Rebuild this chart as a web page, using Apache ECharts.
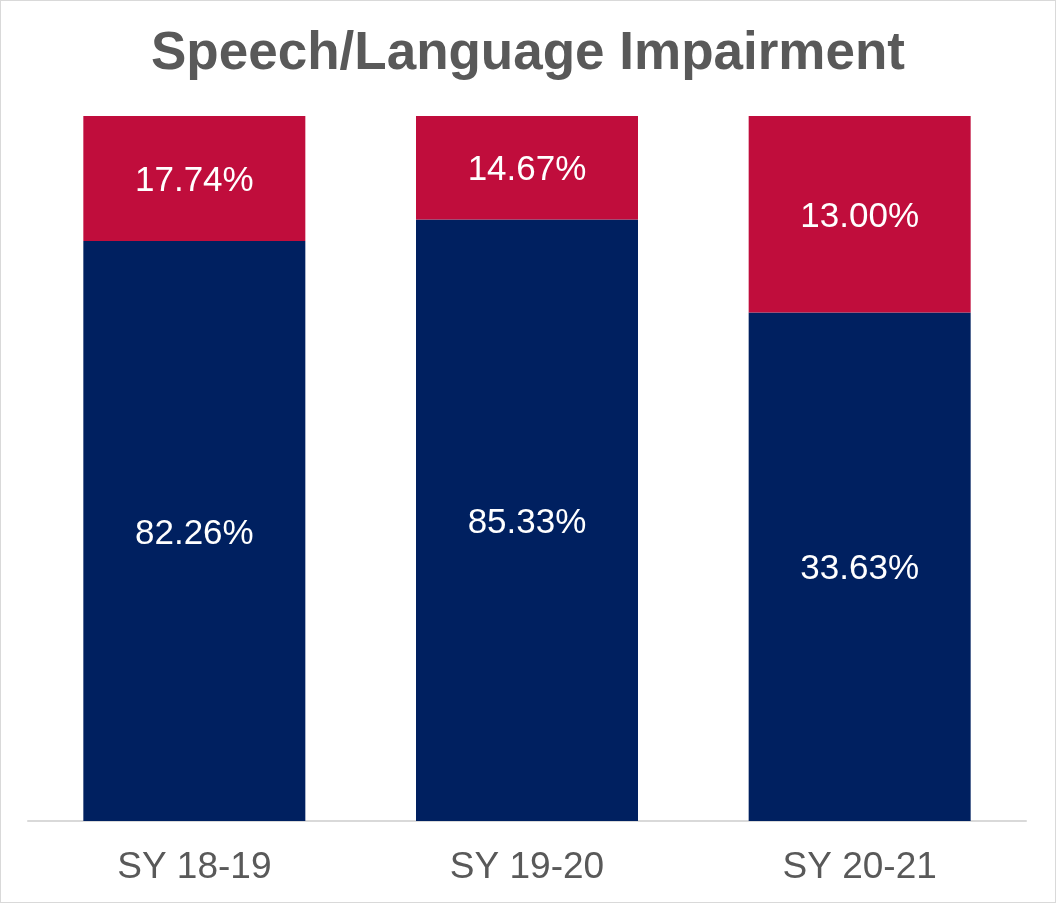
<!DOCTYPE html>
<html>
<head>
<meta charset="utf-8">
<script src="https://cdn.jsdelivr.net/npm/echarts@6/dist/echarts.min.js"></script>
<style>
  html, body { margin: 0; padding: 0; background: #fff; }
  #chart {
    width: 1056px;
    height: 903px;
    box-sizing: border-box;
    border: 1px solid #d9d9d9;
  }
</style>
</head>
<body>
<div id="chart"></div>
<script>
// school years on the x axis
const categories = ['SY 18-19', 'SY 19-20', 'SY 20-21'];
// lower (navy) and upper (red) segments, as labelled in the source
const lowerValues = [82.26, 85.33, 33.63];
const upperValues = [17.74, 14.67, 13.00];

// 100% stacked: each bar is scaled to its own total, labels keep the raw value
const totals = lowerValues.map((v, i) => v + upperValues[i]);
const lowerShare = lowerValues.map((v, i) => v / totals[i] * 100);
const upperShare = upperValues.map((v, i) => v / totals[i] * 100);

const labelStyle = {
  show: true,
  position: 'inside',
  offset: [0, 3],
  color: '#ffffff',
  fontFamily: 'Liberation Sans, Arial, sans-serif',
  fontSize: 35,
};

const myChart = echarts.init(document.getElementById('chart'));
const option = {
  animation: false,
  title: {
    text: 'Speech/Language Impairment',
    left: 'center',
    top: 22,
    textStyle: {
      color: '#595959',
      fontFamily: 'Liberation Sans, Arial, sans-serif',
      fontWeight: 'bold',
      fontSize: 53,
    },
  },
  grid: {
    left: 27,
    right: 29,
    top: 115,
    bottom: 81,
    containLabel: false,
  },
  xAxis: {
    type: 'category',
    data: categories,
    axisLine: { lineStyle: { color: '#d9d9d9', width: 2 } },
    axisTick: { show: false },
    axisLabel: {
      color: '#595959',
      fontFamily: 'Liberation Sans, Arial, sans-serif',
      fontSize: 37,
      margin: 28,
    },
  },
  yAxis: {
    type: 'value',
    min: 0,
    max: 100,
    show: false,
  },
  series: [
    {
      type: 'bar',
      stack: 'total',
      barWidth: 222,
      data: lowerShare,
      itemStyle: { color: '#002060' },
      label: Object.assign({}, labelStyle, {
        formatter: p => lowerValues[p.dataIndex].toFixed(2) + '%',
      }),
    },
    {
      type: 'bar',
      stack: 'total',
      barWidth: 222,
      data: upperShare,
      itemStyle: { color: '#C00D3C' },
      label: Object.assign({}, labelStyle, {
        formatter: p => upperValues[p.dataIndex].toFixed(2) + '%',
      }),
    },
  ],
};
myChart.setOption(option);
</script>
</body>
</html>
